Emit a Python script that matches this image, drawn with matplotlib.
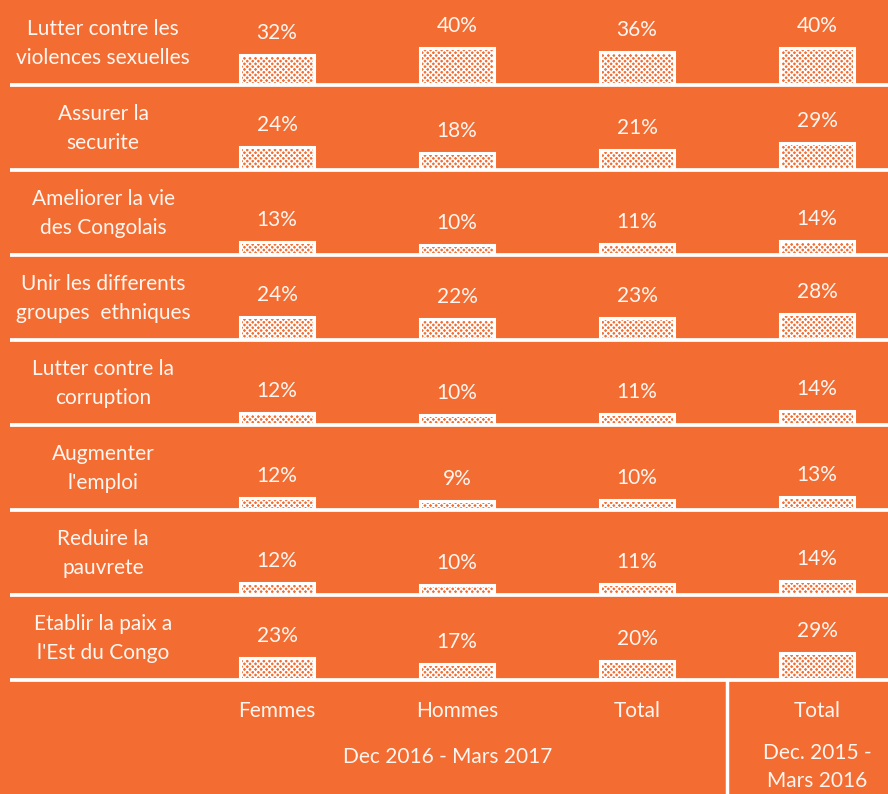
import matplotlib
matplotlib.use('Agg')
import matplotlib.pyplot as plt

# Données du graphique
categories = [
    "Lutter contre les\nviolences sexuelles",
    "Assurer la\nsecurite",
    "Ameliorer la vie\ndes Congolais",
    "Unir les differents\ngroupes  ethniques",
    "Lutter contre la\ncorruption",
    "Augmenter\nl'emploi",
    "Reduire la\npauvrete",
    "Etablir la paix a\nl'Est du Congo",
]
femmes = [32, 24, 13, 24, 12, 12, 12, 23]
hommes = [40, 18, 10, 22, 10, 9, 10, 17]
total_2017 = [36, 21, 11, 23, 11, 10, 11, 20]
total_2016 = [40, 29, 14, 28, 14, 13, 14, 29]
series = [femmes, hommes, total_2017, total_2016]
col_labels = ["Femmes", "Hommes", "Total", "Total"]
period_labels = ["Dec 2016 - Mars 2017", "Dec. 2015 -\nMars 2016"]

ORANGE = '#F36C31'
WHITE = '#FFFFFF'
TXT = '#FFF6F1'

plt.rcParams['font.family'] = ['Lato', 'DejaVu Sans']
plt.rcParams['hatch.linewidth'] = 1.1

W, H = 888, 794
fig = plt.figure(figsize=(W / 100, H / 100), dpi=100, facecolor=ORANGE)
ax = fig.add_axes([0, 0, 1, 1])
ax.set_facecolor(ORANGE)
ax.set_xlim(0, W)
ax.set_ylim(0, H)
ax.axis('off')

row_h = 85
px_per_pct = 0.9
col_x = [277, 457, 637, 817]
bar_w = 74
fs = 15

for i, cat in enumerate(categories):
    base = H - row_h * (i + 1)
    ax.plot([10, W], [base, base], color=WHITE, lw=2.7, solid_capstyle='butt')
    ax.text(103, base + row_h / 2 - 1, cat, ha='center', va='center',
            color=TXT, fontsize=fs, linespacing=1.62)
    for x, vals in zip(col_x, series):
        v = vals[i]
        h = v * px_per_pct
        ax.bar(x, h, width=bar_w, bottom=base + 1, color=ORANGE,
               edgecolor=WHITE, linewidth=2.2, hatch='xxxxxx', zorder=3)
        ax.text(x, base + h + 23, f"{v}%", ha='center', va='center',
                color=TXT, fontsize=fs)

# Bas du tableau
last = H - row_h * len(categories)
ax.plot([727, 727], [0, last], color=WHITE, lw=2.5)
for x, lab in zip(col_x, col_labels):
    ax.text(x, last - 31, lab, ha='center', va='center',
            color=TXT, fontsize=fs)
ax.text(448, last - 77, period_labels[0], ha='center', va='center',
        color=TXT, fontsize=fs)
ax.text(817, H - 767, period_labels[1], ha='center', va='center',
        color=TXT, fontsize=fs, linespacing=1.5)

fig.savefig('out.png', dpi=100, facecolor=ORANGE)
